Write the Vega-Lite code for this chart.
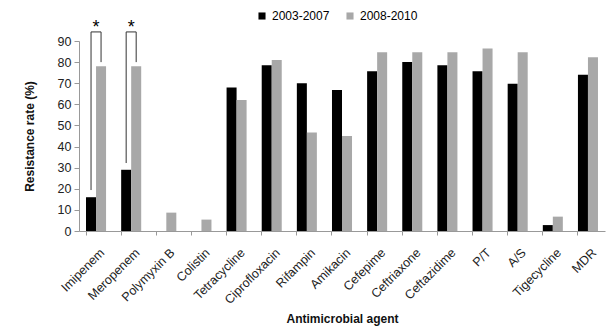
{
  "$schema": "https://vega.github.io/schema/vega-lite/v6.json",
  "width": 526,
  "height": 190,
  "autosize": {"type": "none"},
  "padding": {"left": 79, "top": 41, "right": 5, "bottom": 105},
  "background": "white",
  "config": {
    "view": {"stroke": null},
    "font": "Liberation Sans",
    "axis": {"labelFont": "Liberation Sans", "titleFont": "Liberation Sans", "grid": false, "domainColor": "#999999", "tickColor": "#999999", "labelColor": "#222222", "titleColor": "#111111"},
    "legend": {"labelFont": "Liberation Sans"}
  },
  "datasets": {
    "bars": [
      {"agent": "Imipenem", "period": "2003-2007", "rate": 16},
      {"agent": "Imipenem", "period": "2008-2010", "rate": 78},
      {"agent": "Meropenem", "period": "2003-2007", "rate": 29},
      {"agent": "Meropenem", "period": "2008-2010", "rate": 78},
      {"agent": "Polymyxin B", "period": "2003-2007", "rate": 0},
      {"agent": "Polymyxin B", "period": "2008-2010", "rate": 8.7},
      {"agent": "Colistin", "period": "2003-2007", "rate": 0},
      {"agent": "Colistin", "period": "2008-2010", "rate": 5.4},
      {"agent": "Tetracycline", "period": "2003-2007", "rate": 68},
      {"agent": "Tetracycline", "period": "2008-2010", "rate": 62},
      {"agent": "Ciprofloxacin", "period": "2003-2007", "rate": 78.5},
      {"agent": "Ciprofloxacin", "period": "2008-2010", "rate": 81},
      {"agent": "Rifampin", "period": "2003-2007", "rate": 70},
      {"agent": "Rifampin", "period": "2008-2010", "rate": 46.6},
      {"agent": "Amikacin", "period": "2003-2007", "rate": 66.8},
      {"agent": "Amikacin", "period": "2008-2010", "rate": 45},
      {"agent": "Cefepime", "period": "2003-2007", "rate": 75.7},
      {"agent": "Cefepime", "period": "2008-2010", "rate": 84.7},
      {"agent": "Ceftriaxone", "period": "2003-2007", "rate": 80},
      {"agent": "Ceftriaxone", "period": "2008-2010", "rate": 84.7},
      {"agent": "Ceftazidime", "period": "2003-2007", "rate": 78.5},
      {"agent": "Ceftazidime", "period": "2008-2010", "rate": 84.7},
      {"agent": "P/T", "period": "2003-2007", "rate": 75.7},
      {"agent": "P/T", "period": "2008-2010", "rate": 86.4},
      {"agent": "A/S", "period": "2003-2007", "rate": 69.7},
      {"agent": "A/S", "period": "2008-2010", "rate": 84.7},
      {"agent": "Tigecycline", "period": "2003-2007", "rate": 2.8},
      {"agent": "Tigecycline", "period": "2008-2010", "rate": 6.8},
      {"agent": "MDR", "period": "2003-2007", "rate": 74},
      {"agent": "MDR", "period": "2008-2010", "rate": 82.3}
    ],
    "brackets": [
      {"agent": "Imipenem", "period": "2003-2007", "rate": 19.4, "ord": 1},
      {"agent": "Imipenem", "period": "2003-2007", "rate": 94.3, "ord": 2},
      {"agent": "Imipenem", "period": "2008-2010", "rate": 94.3, "ord": 3},
      {"agent": "Imipenem", "period": "2008-2010", "rate": 80, "ord": 4},
      {"agent": "Meropenem", "period": "2003-2007", "rate": 32.2, "ord": 1},
      {"agent": "Meropenem", "period": "2003-2007", "rate": 94.3, "ord": 2},
      {"agent": "Meropenem", "period": "2008-2010", "rate": 94.3, "ord": 3},
      {"agent": "Meropenem", "period": "2008-2010", "rate": 80, "ord": 4}
    ],
    "stars": [
      {"agent": "Imipenem", "rate": 97.5, "label": "*"},
      {"agent": "Meropenem", "rate": 97.5, "label": "*"}
    ]
  },
  "encoding": {
    "x": {
      "field": "agent", "type": "nominal", "sort": null,
      "scale": {"paddingInner": 0.43, "paddingOuter": 0.2},
      "axis": {"title": "Antimicrobial agent", "titleFontSize": 12, "titleFontWeight": "bold", "titleY": 82, "titleBaseline": "top", "labelAngle": -45, "labelFontSize": 12.5, "labelPadding": 11, "labelOffset": 2, "bandPosition": 0, "tickSize": 4, "labelBound": false, "labelOverlap": false}
    },
    "y": {
      "field": "rate", "type": "quantitative",
      "scale": {"domain": [0, 90], "nice": false},
      "axis": {"title": "Resistance rate (%)", "titleFontSize": 12, "titleFontWeight": "bold", "values": [0,10,20,30,40,50,60,70,80,90], "labelOverlap": false, "labelFontSize": 12.5, "tickSize": 5, "labelPadding": 3, "titlePadding": 21}
    }
  },
  "layer": [
    {
      "data": {"name": "bars"},
      "mark": {"type": "bar"},
      "encoding": {
        "xOffset": {"field": "period", "type": "nominal", "scale": {"paddingInner": 0}},
        "color": {
          "field": "period", "type": "nominal",
          "scale": {"range": ["#000000", "#a8a8a8"]},
          "legend": {"title": null, "orient": "none", "direction": "horizontal", "legendX": 177, "legendY": -31, "symbolType": "square", "symbolSize": 50, "labelFontSize": 12, "columnPadding": 14, "symbolStrokeWidth": 0}
        }
      }
    },
    {
      "data": {"name": "brackets"},
      "mark": {"type": "line", "color": "#333333", "strokeWidth": 1, "clip": false},
      "encoding": {
        "xOffset": {"field": "period", "type": "nominal"},
        "detail": {"field": "agent"},
        "order": {"field": "ord"}
      }
    },
    {
      "data": {"name": "stars"},
      "mark": {"type": "text", "fontSize": 18, "font": "Liberation Sans", "baseline": "middle", "clip": false, "dy": 3},
      "encoding": {
        "text": {"field": "label"}
      }
    }
  ]
}
